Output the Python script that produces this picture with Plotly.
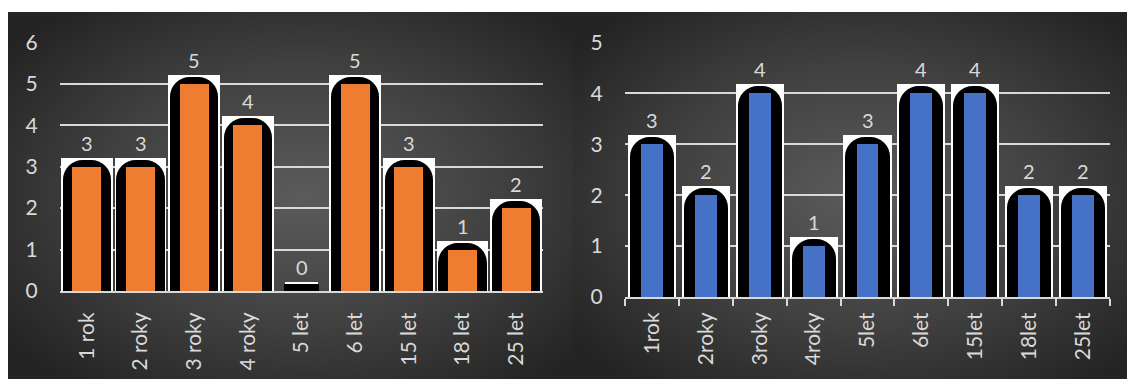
import base64
import plotly.graph_objects as go

# ---- data ----
left_categories = ["1 rok", "2 roky", "3 roky", "4 roky", "5 let", "6 let", "15 let", "18 let", "25 let"]
left_values = [3, 3, 5, 4, 0, 5, 3, 1, 2]
right_categories = ["1rok", "2roky", "3roky", "4roky", "5let", "6let", "15let", "18let", "25let"]
right_values = [3, 2, 4, 1, 3, 4, 4, 2, 2]
left_yticks = [0, 1, 2, 3, 4, 5, 6]
right_yticks = [0, 1, 2, 3, 4, 5]

W, H = 1127, 379
FONT = "Lato"
TXT = "#D9D9D9"
GRID = "#D9D9D9"


def px(x):
    return x / W


def py(y):
    return 1 - y / H


def bg_uri():
    svg = ("<svg xmlns='http://www.w3.org/2000/svg' width='560' height='370' "
           "preserveAspectRatio='none' viewBox='0 0 560 370'><defs>"
           "<radialGradient id='g' cx='52%' cy='50%' r='65%'>"
           "<stop offset='0' stop-color='#5b5b5b'/>"
           "<stop offset='0.55' stop-color='#404040'/>"
           "<stop offset='1' stop-color='#242424'/></radialGradient></defs>"
           "<rect x='0' y='0' width='560' height='370' fill='url(#g)'/></svg>")
    return "data:image/svg+xml;base64," + base64.b64encode(svg.encode()).decode()


fig = go.Figure()
annotations = []


def add_panel(cats, vals, color, xa, ya, w_white, w_black, w_inner):
    fig.add_trace(go.Bar(x=cats, y=vals, xaxis=xa, yaxis=ya, width=w_white,
                         marker=dict(color="white", line=dict(color="white", width=18)),
                         hoverinfo="skip", showlegend=False))
    fig.add_trace(go.Bar(x=cats, y=vals, xaxis=xa, yaxis=ya, width=w_black,
                         marker=dict(color="black", cornerradius=13,
                                     line=dict(color="black", width=14)),
                         hoverinfo="skip", showlegend=False))
    fig.add_trace(go.Bar(x=cats, y=vals, xaxis=xa, yaxis=ya, width=w_inner,
                         marker=dict(color=color, line=dict(width=0)),
                         showlegend=False))
    for c, v in zip(cats, vals):
        annotations.append(dict(x=c, y=v, xref=xa, yref=ya, text=str(v),
                                showarrow=False, yshift=24, yanchor="middle",
                                font=dict(family=FONT, size=20, color=TXT)))


add_panel(left_categories, left_values, "#EE7D32", "x", "y", 0.624, 0.642, 0.54)
add_panel(right_categories, right_values, "#4572C6", "x2", "y2", 0.557, 0.557, 0.408)

axis_font = dict(family=FONT, size=21, color=TXT)

fig.update_layout(
    template="none",
    width=W, height=H,
    margin=dict(l=0, r=0, t=0, b=0, autoexpand=False),
    paper_bgcolor="white", plot_bgcolor="rgba(0,0,0,0)",
    barmode="overlay", bargap=0,
    showlegend=False,
    annotations=annotations,
    xaxis=dict(domain=[px(60), px(543)], anchor="y", type="category", automargin=False,
               showgrid=False, showline=True, linecolor=GRID, linewidth=2,
               ticks="", tickangle=-90, tickfont=axis_font, ticklabelstandoff=11,
               fixedrange=True),
    yaxis=dict(domain=[py(291), py(42)], anchor="x", range=[0, 6.01], automargin=False,
               tickvals=left_yticks, showgrid=True, gridcolor=GRID, gridwidth=2,
               zeroline=False, showline=False, ticks="outside", ticklen=17,
               tickcolor="rgba(0,0,0,0)", tickfont=axis_font),
    xaxis2=dict(domain=[px(625), px(1110)], anchor="y2", type="category", automargin=False,
                showgrid=False, showline=True, linecolor=GRID, linewidth=2,
                ticks="outside", tickson="boundaries", ticklen=7, tickwidth=2,
                tickcolor=GRID, tickangle=-90, tickfont=axis_font,
                ticklabelstandoff=5),
    yaxis2=dict(domain=[py(297), py(42)], anchor="x2", range=[0, 5.01], automargin=False,
                tickvals=right_yticks, showgrid=True, gridcolor=GRID, gridwidth=2,
                zeroline=False, showline=False, ticks="outside", ticklen=17,
                tickcolor="rgba(0,0,0,0)", tickfont=axis_font),
    images=[
        dict(source=bg_uri(), xref="paper", yref="paper", x=px(8), y=py(12),
             sizex=px(565), sizey=(H - 12) / H, xanchor="left", yanchor="top",
             sizing="stretch", layer="below"),
        dict(source=bg_uri(), xref="paper", yref="paper", x=px(573), y=py(12),
             sizex=px(554), sizey=(H - 12) / H, xanchor="left", yanchor="top",
             sizing="stretch", layer="below"),
    ],
)

fig.write_html("out.html")
